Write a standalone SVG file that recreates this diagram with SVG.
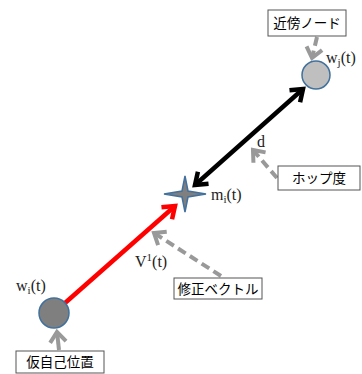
<svg xmlns="http://www.w3.org/2000/svg" width="362" height="374" viewBox="0 0 362 374">
<style>
.box{fill:#fff;stroke:#555;stroke-width:1}
.jp{font-family:"Noto Sans CJK JP","Noto Sans CJK SC",sans-serif;font-size:13.5px;fill:#000;text-anchor:middle}
.lbl{font-family:"Liberation Serif","DejaVu Serif",serif;font-size:16px;fill:#222}
.sub{font-size:11px}
.gd{stroke:#999;stroke-width:4;fill:none;stroke-dasharray:9 5}
.gs{stroke:#999;stroke-width:4;fill:none}
.node{stroke:#41719c;stroke-width:1.5}
</style>
<defs>
<marker id="hr" markerUnits="userSpaceOnUse" viewBox="-16 -12 20 24" markerWidth="20" markerHeight="24" refX="0" refY="0" orient="auto">
<path d="M-11,-8 L0,0 L-11,8" fill="none" stroke="#ff0000" stroke-width="4.5"/>
</marker>
<marker id="hb" markerUnits="userSpaceOnUse" viewBox="-16 -12 20 24" markerWidth="20" markerHeight="24" refX="0" refY="0" orient="auto-start-reverse">
<path d="M-11,-8 L0,0 L-11,8" fill="none" stroke="#000" stroke-width="4.5"/>
</marker>
<marker id="hg" markerUnits="userSpaceOnUse" viewBox="-16 -12 20 24" markerWidth="20" markerHeight="24" refX="0" refY="0" orient="auto">
<path d="M-10,-8 L0,0 L-10,8" fill="none" stroke="#999" stroke-width="4"/>
</marker>
</defs>
<g id="connectors">
<line x1="65" y1="303" x2="175" y2="206" stroke="#ff0000" stroke-width="4.5" marker-end="url(#hr)"/>
<line x1="195" y1="185" x2="303" y2="89" stroke="#000" stroke-width="4.5" marker-start="url(#hb)" marker-end="url(#hb)"/>
<line class="gd" x1="221" y1="276" x2="154" y2="233" marker-end="url(#hg)"/>
<line class="gd" x1="277" y1="178" x2="253" y2="150" marker-end="url(#hg)"/>
<line class="gd" x1="317" y1="37" x2="312" y2="58" stroke-dasharray="8 4" marker-end="url(#hg)"/>
<line class="gs" x1="59" y1="350" x2="57" y2="332" marker-end="url(#hg)"/>
</g>
<g id="node-wj">
<circle class="node" cx="316" cy="75" r="14" fill="#bfbfbf"/>
<text class="lbl" x="326" y="63">w<tspan class="sub" dy="3">j</tspan><tspan dy="-3">(t)</tspan></text>
</g>
<g id="node-wi">
<circle class="node" cx="54" cy="313" r="15" fill="#7f7f7f"/>
<text class="lbl" x="16" y="291">w<tspan class="sub" dy="3">i</tspan><tspan dy="-3">(t)</tspan></text>
</g>
<g id="node-mi">
<path d="M185,176 L188,191 L206,194 L188,197 L185,212 L182,197 L164,194 L182,191 Z" fill="#7f7f7f" stroke="#41719c" stroke-width="1.5"/>
<text class="lbl" x="211" y="200">m<tspan class="sub" dy="3">i</tspan><tspan dy="-3">(t)</tspan></text>
</g>
<g id="label-d">
<text class="lbl" x="257" y="147">d</text>
</g>
<g id="label-v">
<text class="lbl" x="135" y="267">V<tspan class="sub" dy="-6">1</tspan><tspan dy="6">(t)</tspan></text>
</g>
<g id="box-neighbor">
<rect class="box" x="268" y="10" width="78" height="26"/>
<text class="jp" x="307" y="28">近傍ノード</text>
</g>
<g id="box-hop">
<rect class="box" x="278" y="166" width="82" height="24"/>
<text class="jp" x="319" y="183">ホップ度</text>
</g>
<g id="box-correction">
<rect class="box" x="174" y="278" width="88" height="21"/>
<text class="jp" x="218" y="294">修正ベクトル</text>
</g>
<g id="box-self">
<rect class="box" x="16" y="351" width="88" height="22"/>
<text class="jp" x="60" y="367">仮自己位置</text>
</g>
</svg>
